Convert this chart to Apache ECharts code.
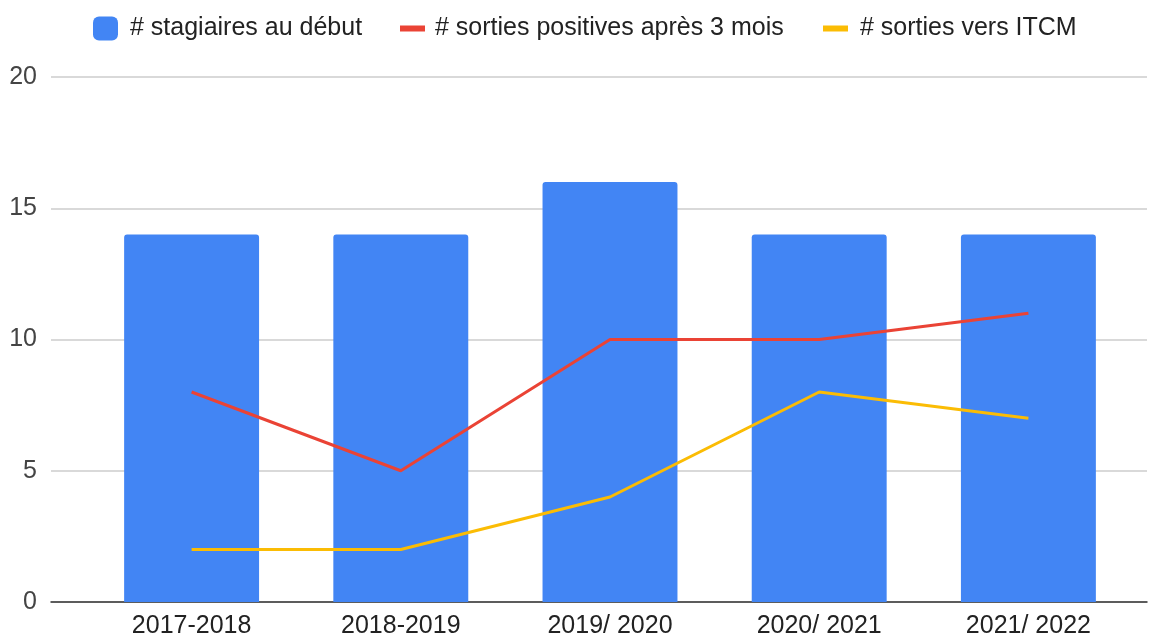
<!DOCTYPE html>
<html>
<head>
<meta charset="utf-8">
<script src="https://cdn.jsdelivr.net/npm/echarts@6/dist/echarts.min.js"></script>
<style>
  html, body { margin: 0; padding: 0; background: #fff; }
  #chart { width: 1152px; height: 636px; }
</style>
</head>
<body>
<div id="chart"></div>
<script>
const categories = ['2017-2018', '2018-2019', '2019/ 2020', '2020/ 2021', '2021/ 2022']
const stagiaires = [14, 14, 16, 14, 14]
const sortiesPositives = [8, 5, 10, 10, 11]
const sortiesItcm = [2, 2, 4, 8, 7]
const yTicks = { min: 0, max: 20, interval: 5 }

const font = '"Liberation Sans", Arial, sans-serif'
const colors = { blue: '#4285F4', red: '#EA4335', yellow: '#FBBC04' }

const chart = echarts.init(document.getElementById('chart'))

// one legend per item so each can have its own icon size
const legendItem = function (left, w, h, gap, name, icon) {
    return {
        left, top: 11, itemWidth: w, itemHeight: h, itemGap: 0,
        textStyle: { fontFamily: font, fontSize: 25, color: '#222', lineHeight: 24, padding: [0, 0, 0, gap - 10] },
        data: [{ name, icon }]
    }
}

chart.setOption({
    animation: false,
    legend: [
        legendItem(88, 25, 24, 17, '# stagiaires au début', 'roundRect'),
        legendItem(395, 25, 6, 15, '# sorties positives après 3 mois', 'rect'),
        legendItem(818, 25, 6, 17, '# sorties vers ITCM', 'rect')
    ],
    grid: [
        { left: 51, right: 5, top: 77, bottom: 34, outerBoundsMode: 'none' },
        { left: 87, right: 19, top: 77, bottom: 34, outerBoundsMode: 'none' }
    ],
    xAxis: [
        {
            gridIndex: 0, type: 'category', data: [''],
            axisLine: { lineStyle: { color: '#333', width: 1.5 } },
            axisTick: { show: false }, axisLabel: { show: false }
        },
        {
            gridIndex: 1, type: 'category', data: categories,
            axisLine: { show: false }, axisTick: { show: false },
            axisLabel: { fontFamily: font, fontSize: 25, color: '#222', margin: 12 }
        }
    ],
    yAxis: [
        Object.assign({
            gridIndex: 0, type: 'value',
            axisLine: { show: false }, axisTick: { show: false },
            axisLabel: { fontFamily: font, fontSize: 25, color: '#444', margin: 14 },
            splitLine: { lineStyle: { color: '#cccccc', width: 1.5 } }
        }, yTicks),
        Object.assign({ gridIndex: 1, type: 'value', show: false, splitLine: { show: false } }, yTicks)
    ],
    series: [
        {
            name: '# stagiaires au début', type: 'bar', xAxisIndex: 1, yAxisIndex: 1,
            barWidth: '64.5%', data: stagiaires,
            itemStyle: { color: colors.blue, borderRadius: [3, 3, 0, 0] }
        },
        {
            name: '# sorties positives après 3 mois', type: 'line', xAxisIndex: 1, yAxisIndex: 1,
            data: sortiesPositives, symbol: 'none',
            lineStyle: { color: colors.red, width: 3 }, itemStyle: { color: colors.red }
        },
        {
            name: '# sorties vers ITCM', type: 'line', xAxisIndex: 1, yAxisIndex: 1,
            data: sortiesItcm, symbol: 'none',
            lineStyle: { color: colors.yellow, width: 3 }, itemStyle: { color: colors.yellow }
        }
    ]
})
</script>
</body>
</html>
